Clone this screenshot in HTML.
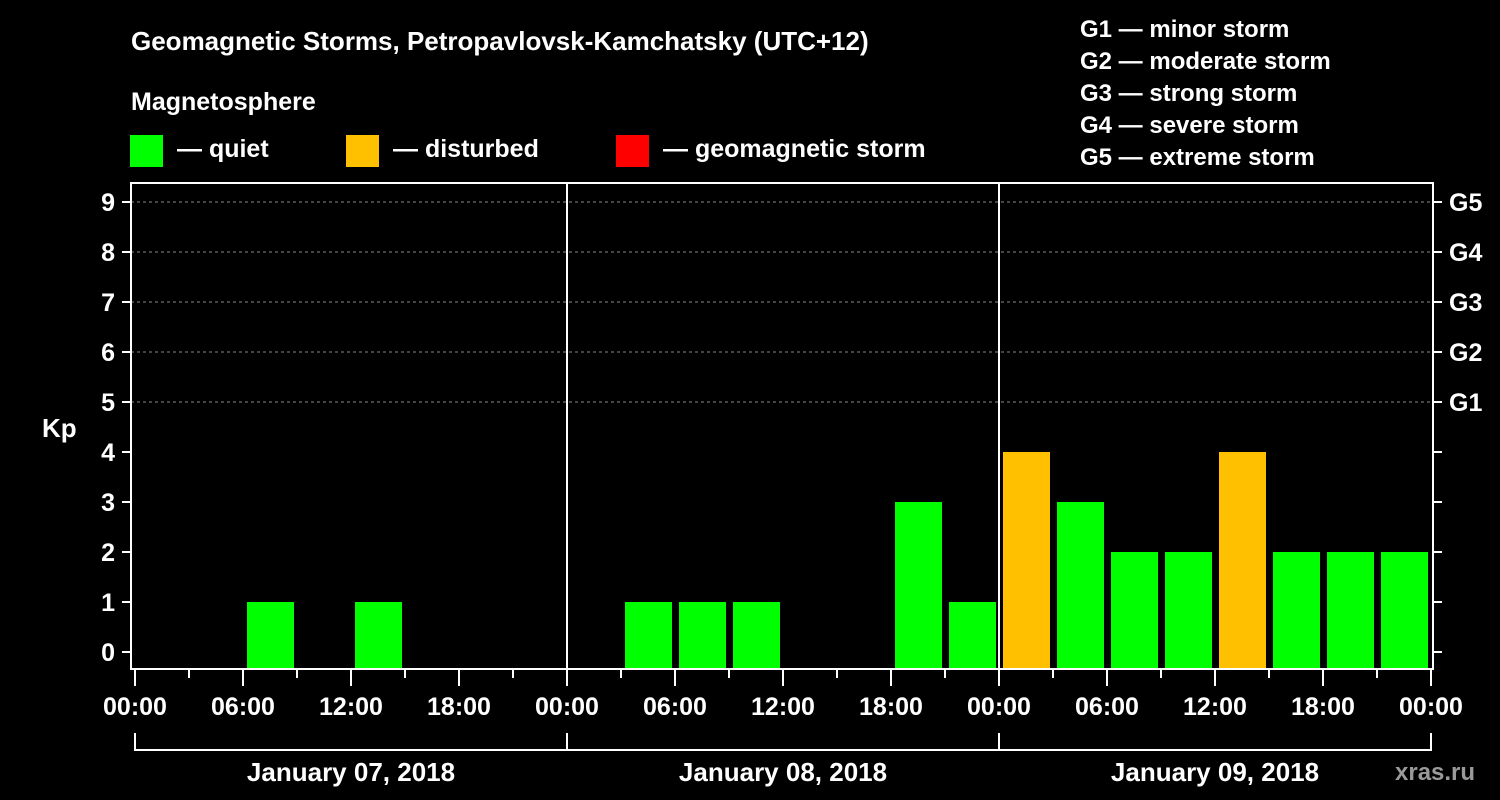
<!DOCTYPE html>
<html><head><meta charset="utf-8"><style>
html,body{margin:0;padding:0;background:#000;width:1500px;height:800px;overflow:hidden}
svg text{font-family:"Liberation Sans",sans-serif;font-weight:bold;fill:#fff}
</style></head><body>
<svg id="c" width="1500" height="800" xmlns="http://www.w3.org/2000/svg">
<text x="131" y="50" font-size="26">Geomagnetic Storms, Petropavlovsk-Kamchatsky (UTC+12)</text>
<text x="131" y="110" font-size="25">Magnetosphere</text>
<rect x="130" y="135" width="33" height="32" fill="#00ff00"/>
<text x="177" y="157" font-size="25">— quiet</text>
<rect x="346" y="135" width="33" height="32" fill="#ffc000"/>
<text x="393" y="157" font-size="25">— disturbed</text>
<rect x="616" y="135" width="33" height="32" fill="#ff0000"/>
<text x="663" y="157" font-size="25">— geomagnetic storm</text>
<text x="1080" y="37" font-size="24">G1 — minor storm</text>
<text x="1080" y="69" font-size="24">G2 — moderate storm</text>
<text x="1080" y="101" font-size="24">G3 — strong storm</text>
<text x="1080" y="133" font-size="24">G4 — severe storm</text>
<text x="1080" y="165" font-size="24">G5 — extreme storm</text>
<text x="42" y="437" font-size="26">Kp</text>
<text x="1395" y="780" font-size="24" fill="#999" style="fill:#9a9a9a">xras.ru</text>
<g id="plot"></g>
</svg>
<script>
const days = ["January 07, 2018","January 08, 2018","January 09, 2018"];
const kp = [0,0,1,0,1,0,0,0, 0,1,1,1,0,0,3,1, 4,3,2,2,4,2,2,2];
const yTicks = [0,1,2,3,4,5,6,7,8,9];
const gLabels = ["G1","G2","G3","G4","G5"];
const hourLabels = ["00:00","06:00","12:00","18:00"];

const NS="http://www.w3.org/2000/svg";
const g=document.getElementById('plot');
const L=131,R=1433,T=183,B=669,X0=135,DAY=432;
const xs=h=>X0+h*DAY/24;
const ys=v=>652-v*50;
function mk(tag,a){const e=document.createElementNS(NS,tag);for(const k in a)e.setAttribute(k,a[k]);g.appendChild(e);return e;}
// grid
for(const v of [5,6,7,8,9]){
 const e=mk('line',{x1:L,x2:R,y1:ys(v),y2:ys(v),stroke:'#888','stroke-dasharray':'3,3','stroke-width':1});
 
 
}
// bars
kp.forEach((v,i)=>{
 if(v<=0)return;
 const col=v>=5?'#ff0000':(v>=4?'#ffc000':'#00ff00');
 const e=mk('rect',{x:xs(i*3)+4,y:ys(v),width:47,height:B-ys(v),fill:col});
 
 
});
// frame
const fr=mk('rect',{x:L,y:T,width:R-L,height:B-T,fill:'none',stroke:'#fff','stroke-width':2});


// day separators
for(let d=1;d<days.length;d++){
 const e=mk('line',{x1:xs(d*24),x2:xs(d*24),y1:T,y2:B,stroke:'#fff','stroke-width':2});
 
 
}
// y ticks
yTicks.forEach(v=>{
 const y=ys(v);
 const t=mk('line',{x1:L-9,x2:L,y1:y,y2:y,stroke:'#fff','stroke-width':2});
 
 
 const t2=mk('line',{x1:R,x2:R+9,y1:y,y2:y,stroke:'#fff','stroke-width':2});
 
 
 const l=mk('text',{x:L-16,y:y+9,'font-size':25,'text-anchor':'end'});
 l.textContent=v;
 
 
});
gLabels.forEach((s,i)=>{
 const l=mk('text',{x:1449,y:ys(5+i)+9,'font-size':25});
 l.textContent=s;
 
 
});
// x ticks
for(let h=0;h<=days.length*24;h+=3){
 const x=xs(h);
 const major=h%6===0;
 const t=mk('line',{x1:x,x2:x,y1:B,y2:B+(major?17:9),stroke:'#fff','stroke-width':2});
 
 
 if(major){
  const l=mk('text',{x:x,y:715,'font-size':25,'text-anchor':'middle'});
  l.textContent=hourLabels[(h/6)%4];
  
  
 }
}
// day brackets
days.forEach((d,i)=>{
 const x1=xs(i*24),x2=xs((i+1)*24);
 const p=mk('path',{d:`M${x1},733V750H${x2}V733`,fill:'none',stroke:'#fff','stroke-width':2});
 
 
 const l=mk('text',{x:(x1+x2)/2,y:781,'font-size':26,'text-anchor':'middle'});
 l.textContent=d;
 
 
});
</script>
</body></html>
